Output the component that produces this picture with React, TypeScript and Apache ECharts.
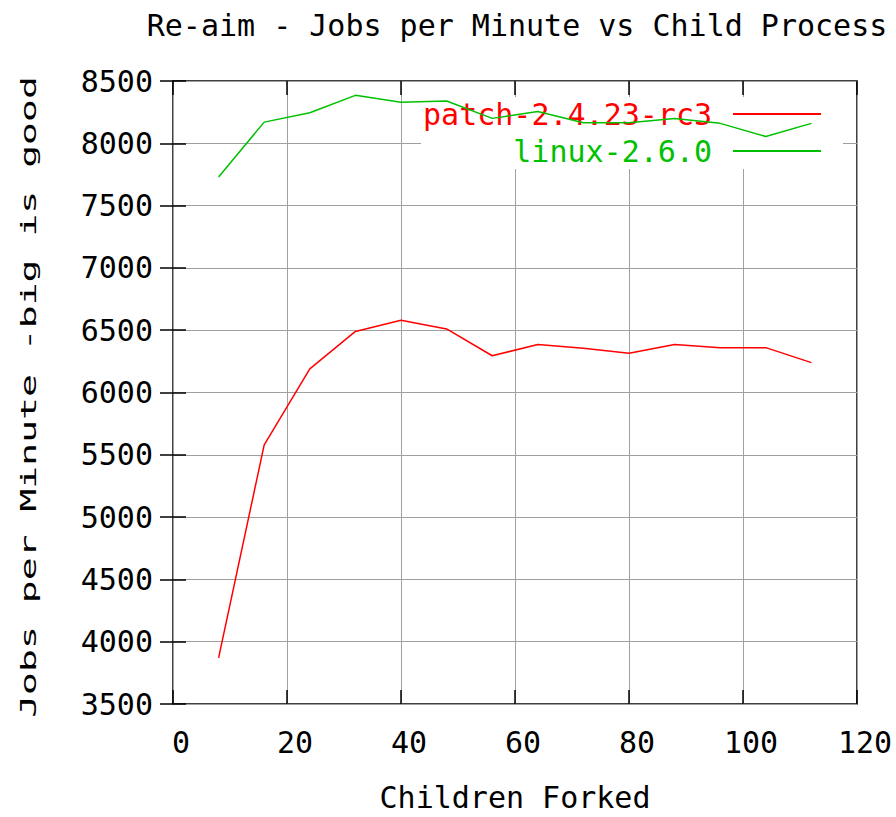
import { useEffect, useRef } from 'react';
import * as echarts from 'echarts';

const childrenForked = [8, 16, 24, 32, 40, 48, 56, 64, 72, 80, 88, 96, 104, 112];
const patchJobs = [3870, 5580, 6190, 6490, 6580, 6510, 6295, 6385, 6355, 6315, 6385, 6360, 6360, 6240];
const linuxJobs = [7730, 8170, 8245, 8385, 8330, 8340, 8200, 8255, 8165, 8165, 8200, 8160, 8055, 8160];
const seriesNames = ['patch-2.4.23-rc3', 'linux-2.6.0'];
const seriesColors = ['#ff0000', '#00c000'];
const titleText = 'Re-aim - Jobs per Minute vs Child Process';
const xAxisTitle = 'Children Forked';
const yAxisTitle = 'Jobs per Minute -big is good';

const FONT = '"DejaVu Sans Mono", monospace';

export default function App() {
  const ref = useRef<HTMLDivElement>(null);

  useEffect(() => {
    if (!ref.current) return;
    const chart = echarts.init(ref.current, null, { renderer: 'svg' });

    const xBase = { type: 'value', min: 0, max: 120, interval: 20 };
    const yBase = { type: 'value', min: 3500, max: 8500, interval: 500 };
    const tickLine = { color: '#000', width: 1.5 };
    const labelFont = { fontFamily: FONT, fontSize: 30, color: '#000' };

    const option: any = {
      animation: false,
      backgroundColor: '#fff',
      title: {
        text: titleText,
        left: 512,
        top: 5,
        textAlign: 'center',
        textStyle: { fontFamily: FONT, fontSize: 30, fontWeight: 'normal', color: '#000' },
      },
      grid: {
        left: 173,
        top: 81,
        width: 684,
        height: 630,
        show: true,
        borderColor: '#000',
        borderWidth: 1.5,
        backgroundColor: 'transparent',
      },
      legend: {
        orient: 'vertical',
        align: 'right',
        right: 53,
        top: 97,
        padding: [2, 22, 3, 2],
        backgroundColor: '#fff',
        z: 1,
        itemWidth: 88,
        itemHeight: 2,
        itemGap: 7,
        icon: 'rect',
        selectedMode: false,
        textStyle: { fontFamily: FONT, fontSize: 30, lineHeight: 30, padding: [0, 16, 0, 0] },
        data: seriesNames.map((n, i) => ({ name: n, textStyle: { color: seriesColors[i] } })),
      },
      xAxis: [
        {
          ...xBase,
          position: 'bottom',
          name: xAxisTitle,
          nameLocation: 'middle',
          nameGap: 78,
          nameTextStyle: labelFont,
          axisLine: { show: false },
          axisTick: { show: true, inside: true, length: 14, lineStyle: tickLine },
          axisLabel: { ...labelFont, margin: 23, padding: [0, 0, 0, 16], formatter: (v: number) => String(v) },
          splitLine: { show: true, lineStyle: { color: '#a0a0a0', width: 1 } },
        },
        {
          ...xBase,
          position: 'top',
          axisLine: { show: false },
          axisTick: { show: true, inside: true, length: 14, lineStyle: tickLine },
          axisLabel: { show: false },
          splitLine: { show: false },
        },
      ],
      yAxis: [
        {
          ...yBase,
          position: 'left',
          axisLine: { show: false },
          axisTick: { show: true, inside: true, length: 13, lineStyle: tickLine },
          axisLabel: { ...labelFont, margin: 20, formatter: (v: number) => String(v) },
          splitLine: { show: true, lineStyle: { color: '#a0a0a0', width: 1 } },
        },
        {
          ...yBase,
          position: 'right',
          axisLine: { show: false },
          axisTick: { show: true, inside: true, length: 13, lineStyle: tickLine },
          axisLabel: { show: false },
          splitLine: { show: false },
        },
      ],
      graphic: [
        {
          type: 'text',
          x: 28.5,
          y: 397,
          rotation: Math.PI / 2,
          scaleX: 1.36,
          scaleY: 0.735,
          style: {
            text: yAxisTitle,
            font: `28px ${FONT}`,
            fill: '#000',
            align: 'center',
            verticalAlign: 'middle',
          },
        },
      ],
      series: [patchJobs, linuxJobs].map((vals, i) => ({
        name: seriesNames[i],
        type: 'line',
        xAxisIndex: 0,
        yAxisIndex: 0,
        data: childrenForked.map((c, j) => [c, vals[j]]),
        symbol: 'none',
        lineStyle: { color: seriesColors[i], width: 1.5 },
        itemStyle: { color: seriesColors[i] },
        z: 3,
      })),
    };

    chart.setOption(option);
    return () => chart.dispose();
  }, []);

  return (
    <div
      ref={ref}
      style={{ position: 'fixed', left: 0, top: 0, width: 896, height: 817 }}
    />
  );
}
